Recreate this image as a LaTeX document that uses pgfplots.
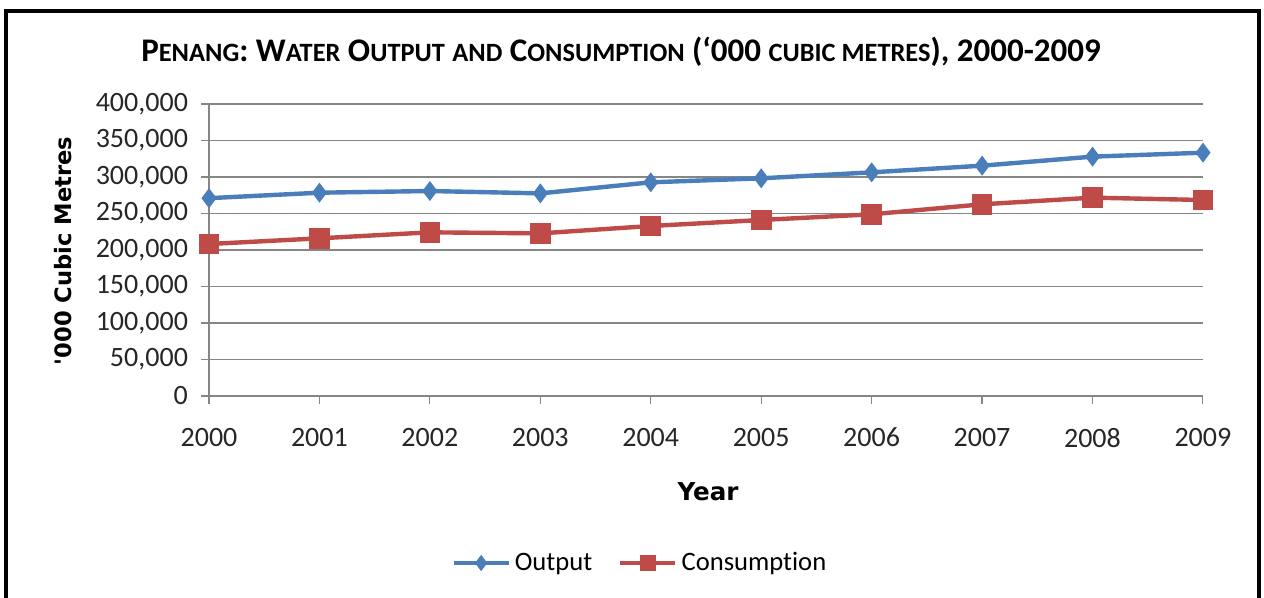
\documentclass[border=0pt]{standalone}
\usepackage{fontspec}
\setmainfont{Carlito}[Ligatures=NoCommon]
\newfontfamily\dvb{DejaVu Sans}
\usepackage{pgfplots}
\pgfplotsset{compat=1.18}
\definecolor{ob}{HTML}{4A7EBB}
\definecolor{cr}{HTML}{BE4B48}
\definecolor{gl}{HTML}{868686}
\newcommand{\sm}[1]{{\fontsize{13.2}{14}\selectfont #1}}
\begin{document}
\begin{tikzpicture}
\begin{scope}[x=0.5pt,y=-0.5pt]
\useasboundingbox (0,0) rectangle (1264,598);
\draw[line width=2pt] (6,600) -- (6,11) -- (1259,11) -- (1259,600);
\node[font=\bfseries\fontsize{16.5}{18}\selectfont] at (621,52)
  {P\sm{ENANG}: W\sm{ATER} O\sm{UTPUT} \sm{AND} C\sm{ONSUMPTION} (‘000 \sm{CUBIC METRES}), 2000-2009};
\node[font=\dvb\bfseries\fontsize{11.3}{12}\selectfont, rotate=90] at (63,251) {'000 Cubic Metres};
\node[font=\dvb\bfseries\fontsize{12.3}{13}\selectfont] at (708,492) {Year};
\coordinate (O) at (209,396);
\end{scope}
\begin{axis}[
  at={(O)}, anchor=south west,
  scale only axis, width=497pt, height=146pt,
  xmin=2000, xmax=2009, ymin=0, ymax=400000,
  xtick={2000,...,2009}, ytick={0,50000,...,400000},
  xticklabels={2000,2001,2002,2003,2004,2005,2006,2007,2008,2009},
  yticklabels={0,{50,000},{100,000},{150,000},{200,000},{250,000},{300,000},{350,000},{400,000}},
  scaled y ticks=false,
  axis x line=bottom, axis y line=left,
  axis line style={gl,-,line width=0.6pt},
  ymajorgrids, grid style={gl,line width=0.6pt},
  tick align=outside, major tick length=4pt,
  tick style={gl,line width=0.6pt},
  ticklabel style={font=\fontsize{14}{15}\selectfont, text=black!85},
  xticklabel style={yshift=-8.5pt},
  yticklabel style={xshift=-3pt},
  legend style={at={(0.2435,-0.572)}, anchor=west, draw=none, fill=none,
    font=\fontsize{13.3}{15}\selectfont, legend columns=2,
    /tikz/every even column/.append style={column sep=11pt},
    cells={anchor=west}, inner sep=0pt},
  legend image code/.code={\draw[mark repeat=2,mark phase=2,every mark/.append style={scale=0.8}] plot coordinates {(0pt,0pt)(13.75pt,0pt)(27.5pt,0pt)};},
]
\addplot[ob, line width=2.2pt, mark=diamond*, mark size=4.6pt, mark options={solid, fill=ob, line width=0.5pt}]
 coordinates {(2000,271000)(2001,278500)(2002,280800)(2003,277600)(2004,292700)(2005,298200)(2006,306400)(2007,315500)(2008,327900)(2009,333300)};
\addlegendentry{Output}
\addplot[cr, line width=2.2pt, mark=square*, mark size=4.9pt, mark options={solid, fill=cr, line width=0.5pt}]
 coordinates {(2000,208200)(2001,216000)(2002,224200)(2003,222800)(2004,232900)(2005,241100)(2006,248900)(2007,262600)(2008,271700)(2009,268500)};
\addlegendentry{Consumption}
\end{axis}
\end{tikzpicture}
\end{document}
